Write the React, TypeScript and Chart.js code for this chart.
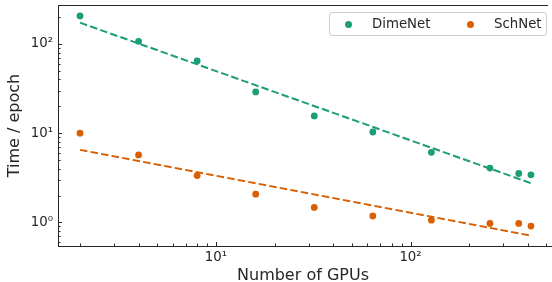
import React, { useEffect, useRef } from "react";
import { Chart, registerables } from "chart.js";

Chart.register(...registerables);

const gpus = [2, 4, 8, 16, 32, 64, 128, 256, 360, 416];
const dimeNetTime = [206, 107, 64.5, 29, 15.6, 10.3, 6.1, 4.06, 3.53, 3.41];
const schNetTime = [10.0, 5.7, 3.35, 2.07, 1.47, 1.18, 1.06, 0.975, 0.975, 0.91];
const fitX = [2, 416];
const dimeNetFit = [173, 2.75];
const schNetFit = [6.5, 0.71];
const xMajorTicks = [10, 100];
const yMajorTicks = [1, 10, 100];
const seriesNames = ["DimeNet", "SchNet"];
const seriesColors = ["#1b9e77", "#d95f02"];

const SUP: Record<string, string> = { "0": "⁰", "1": "¹", "2": "²", "3": "³" };
const fmtPow = (v: number) => {
  const e = Math.round(Math.log10(v));
  return "10" + String(e).split("").map((c) => SUP[c] || c).join("");
};

const TXT = "#262626";
const FONT = "'DejaVu Sans', sans-serif";

const axesPlugin = {
  id: "mplAxes",
  afterDraw(chart: any) {
    const { ctx, chartArea } = chart;
    const { left, right, top, bottom } = chartArea;
    const xs = chart.scales.x;
    const ys = chart.scales.y;
    ctx.save();
    ctx.strokeStyle = TXT;
    ctx.lineWidth = 1;
    ctx.beginPath();
    ctx.moveTo(left + 0.5, top);
    ctx.lineTo(left + 0.5, bottom);
    ctx.moveTo(left, bottom + 0.5);
    ctx.lineTo(chart.width, bottom + 0.5);
    ctx.moveTo(left, top + 0.5);
    ctx.lineTo(right, top + 0.5);
    ctx.stroke();
    ctx.beginPath();
    for (let d = 1; d <= 1000; d *= 10) {
      for (let m = 1; m <= 9; m++) {
        const v = d * m;
        if (v < xs.min || v > xs.max) continue;
        const px = Math.round(xs.getPixelForValue(v)) + 0.5;
        const len = m === 1 ? 4 : 2.5;
        ctx.moveTo(px, bottom);
        ctx.lineTo(px, bottom - len);
      }
    }
    for (let d = 0.1; d <= 1000; d *= 10) {
      for (let m = 1; m <= 9; m++) {
        const v = d * m;
        if (v < ys.min || v > ys.max) continue;
        const py = Math.round(ys.getPixelForValue(v)) + 0.5;
        const len = m === 1 ? 4 : 2.5;
        ctx.moveTo(left, py);
        ctx.lineTo(left + len, py);
      }
    }
    ctx.stroke();
    ctx.restore();
  },
};

export default function App() {
  const ref = useRef<HTMLCanvasElement>(null);
  useEffect(() => {
    document.body.style.margin = "0";
    const toPts = (xs: number[], ys: number[]) => xs.map((x, i) => ({ x, y: ys[i] }));
    const chart = new Chart(ref.current!, {
      type: "scatter",
      data: {
        datasets: [
          {
            label: seriesNames[0] + " fit",
            data: toPts(fitX, dimeNetFit),
            showLine: true,
            borderColor: seriesColors[0],
            borderWidth: 2,
            borderDash: [7.5, 3.2],
            pointRadius: 0,
          },
          {
            label: seriesNames[1] + " fit",
            data: toPts(fitX, schNetFit),
            showLine: true,
            borderColor: seriesColors[1],
            borderWidth: 2,
            borderDash: [7.5, 3.2],
            pointRadius: 0,
          },
          {
            label: seriesNames[0],
            data: toPts(gpus, dimeNetTime),
            backgroundColor: seriesColors[0],
            borderColor: seriesColors[0],
            pointRadius: 3.4,
            borderWidth: 0,
          },
          {
            label: seriesNames[1],
            data: toPts(gpus, schNetTime),
            backgroundColor: seriesColors[1],
            borderColor: seriesColors[1],
            pointRadius: 3.4,
            borderWidth: 0,
          },
        ],
      },
      options: {
        animation: false,
        responsive: false,
        devicePixelRatio: 1,
        layout: { padding: { top: 5, right: 1, left: 0, bottom: 0 } },
        plugins: { legend: { display: false }, tooltip: { enabled: false } },
        scales: {
          x: {
            type: "logarithmic",
            min: 1.541,
            max: 509,
            border: { display: false },
            grid: { display: false, drawTicks: false },
            afterBuildTicks: (s: any) => {
              s.ticks = xMajorTicks.map((v) => ({ value: v, major: true }));
            },
            afterFit: (s: any) => {
              s.height = 36;
              s.paddingLeft = 0;
              s.paddingRight = 0;
            },
            ticks: {
              autoSkip: false,
              maxRotation: 0,
              padding: 4,
              color: TXT,
              font: { family: FONT, size: 13.3 },
              callback: (v: any) => fmtPow(Number(v)),
            },
            title: {
              display: true,
              text: "Number of GPUs",
              color: TXT,
              font: { family: FONT, size: 16, lineHeight: 0.8 },
              padding: { top: 0, bottom: 0 },
            },
          },
          y: {
            type: "logarithmic",
            min: 0.544,
            max: 273,
            border: { display: false },
            grid: { display: false, drawTicks: false },
            afterBuildTicks: (s: any) => {
              s.ticks = yMajorTicks.map((v) => ({ value: v, major: true }));
            },
            afterFit: (s: any) => {
              s.width = 58;
              s.paddingTop = 0;
              s.paddingBottom = 0;
            },
            ticks: {
              autoSkip: false,
              padding: 5,
              color: TXT,
              font: { family: FONT, size: 13.3 },
              callback: (v: any) => fmtPow(Number(v)),
            },
            title: {
              display: true,
              text: "Time / epoch",
              color: TXT,
              font: { family: FONT, size: 16 },
              padding: { top: 5, bottom: 0 },
            },
          },
        },
      },
      plugins: [axesPlugin],
    });
    return () => chart.destroy();
  }, []);

  return (
    <div style={{ position: "relative", width: 552, height: 282, fontFamily: FONT }}>
      <canvas ref={ref} width={552} height={282} style={{ display: "block" }} />
      <div
        style={{
          position: "absolute",
          left: 329,
          top: 12,
          width: 216,
          height: 22,
          border: "1px solid #d0d0d0",
          borderRadius: 3,
          background: "rgba(255,255,255,0.8)",
          fontSize: 13.3,
          color: TXT,
        }}
      >
        {seriesNames.map((name, i) => (
          <div key={name} style={{ position: "absolute", left: i === 0 ? 0 : 122, top: 0, height: 22 }}>
            <span
              style={{
                position: "absolute",
                left: 18 - 3.5,
                top: 11 - 3.5,
                width: 7,
                height: 7,
                borderRadius: "50%",
                background: seriesColors[i],
              }}
            />
            <span style={{ position: "absolute", left: 42, top: 2, whiteSpace: "nowrap", lineHeight: "18px" }}>
              {name}
            </span>
          </div>
        ))}
      </div>
    </div>
  );
}
